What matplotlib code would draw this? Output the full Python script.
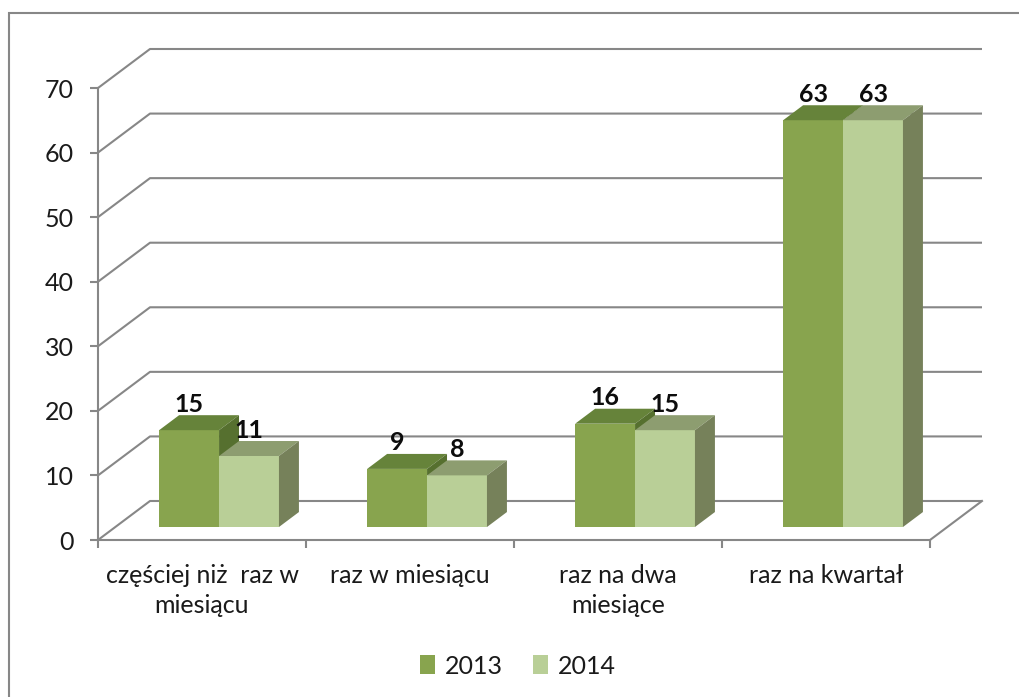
import matplotlib
matplotlib.use("Agg")
import matplotlib.pyplot as plt
import matplotlib.patches as patches
import numpy as np

categories = ["częściej niż  raz w\nmiesiącu", "raz w miesiącu", "raz na dwa\nmiesiące", "raz na kwartał"]
series_names = ["2013", "2014"]
values_2013 = [15, 9, 16, 63]
values_2014 = [11, 8, 15, 63]
y_ticks = [0, 10, 20, 30, 40, 50, 60, 70]

# face colours: front, top, side
colors = {
  "2013": ("#88A44E", "#66833A", "#56702F"),
  "2014": ("#B9CF97", "#8D9D70", "#76815A"),
}
GRID = "#878787"
FONT = "Lato"
FS = 18

# fake 3d geometry, in data units
WALL_DX, WALL_DY = 0.25, 6.04
PLANE_DX, PLANE_DY = 0.082, 2.01
BAR_DX, BAR_DY = 0.096, 2.32
BAR_W = 0.288

W, H = 1019, 697
fig = plt.figure(figsize=(W / 100, H / 100), dpi=100)
fig.patches.append(patches.Rectangle((9 / W, -0.1), 1.2, 1 - 13 / H + 0.1, transform=fig.transFigure,
                                     fill=False, edgecolor=GRID, linewidth=1.5))

ax = fig.add_axes([98 / W, (H - 540) / H, 832 / W, 452 / H])
ax.set_xlim(-0.5, 3.5)
ax.set_ylim(0, 70)

# back wall gridlines and floor
x0, x1 = -0.5, 3.5
for v in y_ticks:
  ax.plot([x0, x0 + WALL_DX, x1 + WALL_DX], [v, v + WALL_DY, v + WALL_DY],
          color=GRID, lw=1.5, clip_on=False, zorder=1, solid_capstyle="butt")
ax.plot([x1, x1 + WALL_DX], [0, WALL_DY], color=GRID, lw=1.5, clip_on=False, zorder=1)

def draw_bar(left, value, cols, z):
  base = PLANE_DY
  right = left + BAR_W
  top = base + value
  front = [(left, base), (right, base), (right, top), (left, top)]
  roof = [(left, top), (right, top), (right + BAR_DX, top + BAR_DY), (left + BAR_DX, top + BAR_DY)]
  side = [(right, base), (right + BAR_DX, base + BAR_DY), (right + BAR_DX, top + BAR_DY), (right, top)]
  for poly, c in ((front, cols[0]), (roof, cols[1]), (side, cols[2])):
    ax.add_patch(patches.Polygon(poly, closed=True, facecolor=c, edgecolor="none",
                                 clip_on=False, zorder=z))

for i in range(len(categories)):
  for j, (name, vals) in enumerate(zip(series_names, [values_2013, values_2014])):
    left = i + PLANE_DX - BAR_W + j * BAR_W
    draw_bar(left, vals[i], colors[name], 3 + j)
    ax.text(left + BAR_W / 2, vals[i] + PLANE_DY + BAR_DY + 1.7, str(vals[i]),
            ha="center", va="center", fontsize=FS, fontweight="bold", family=FONT,
            color="#0d0d0d", zorder=6, clip_on=False)

# axes styling
for s in ("top", "right"):
  ax.spines[s].set_visible(False)
for s in ("left", "bottom"):
  ax.spines[s].set_color(GRID)
  ax.spines[s].set_linewidth(1.5)
ax.spines["left"].set_zorder(7)
ax.spines["bottom"].set_zorder(2)

ax.set_yticks(y_ticks)
ax.tick_params(axis="y", length=5.5, width=1.5, color=GRID, pad=12, labelsize=FS, labelcolor="#1a1a1a")
ax.set_xticks([-0.5, 0.5, 1.5, 2.5, 3.5])
ax.set_xticklabels([])
ax.set_xticks(np.arange(len(categories)), minor=True)
ax.set_xticklabels(categories, minor=True)
ax.tick_params(axis="x", which="major", length=6, width=1.5, color=GRID)
ax.tick_params(axis="x", which="minor", length=0, pad=17, labelsize=FS, labelcolor="#1a1a1a")
for lab in ax.get_yticklabels() + ax.get_xticklabels(minor=True):
  lab.set_family(FONT)
  lab.set_linespacing(1.4)
ax.patch.set_alpha(0)

handles = [patches.Patch(facecolor=colors[n][0], edgecolor="none", label=n) for n in series_names]
fig.legend(handles=handles, loc="center", bbox_to_anchor=(518 / W, 1 - 666 / H), ncol=2, frameon=False,
           prop={"family": FONT, "size": FS}, handlelength=0.6, handleheight=0.8, handletextpad=0.4,
           columnspacing=1.2, labelcolor="#1a1a1a")

fig.savefig("out.png", dpi=100)
